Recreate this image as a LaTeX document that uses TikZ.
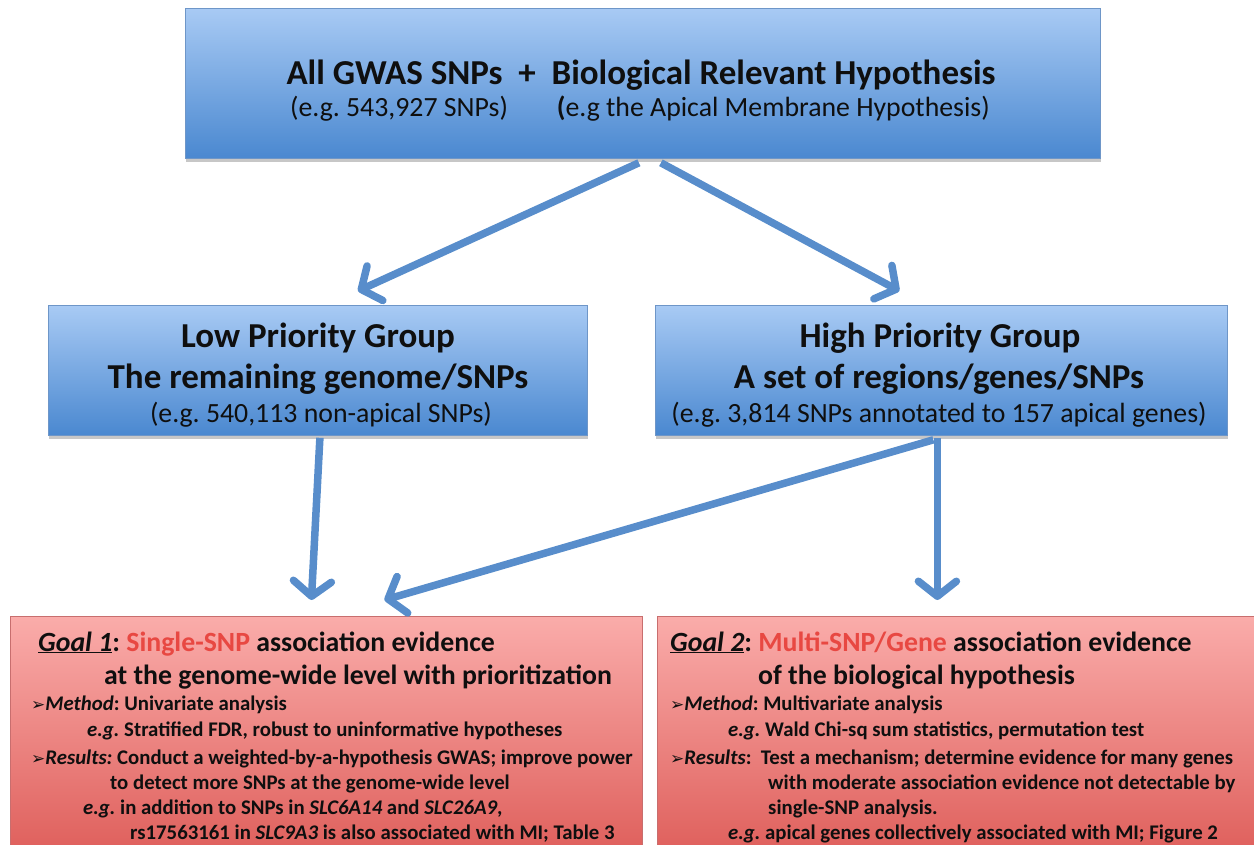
\documentclass[tikz,border=0pt]{standalone}
\usepackage{fontspec}
\setmainfont{Carlito}
\newfontfamily\symfont{DejaVu Sans}
\usetikzlibrary{arrows.meta,shadows,calc}
\definecolor{arrowblue}{RGB}{88,141,203}
\definecolor{bluetop}{RGB}{168,202,244}
\definecolor{bluebot}{RGB}{74,136,208}
\definecolor{blueedge}{RGB}{110,150,200}
\definecolor{redtop}{RGB}{250,172,170}
\definecolor{redbot}{RGB}{220,88,84}
\definecolor{rededge}{RGB}{200,110,110}
\definecolor{goalred}{RGB}{232,72,66}
\definecolor{txt}{RGB}{15,15,15}
\newcommand{\bul}{{\symfont\fontsize{17}{20}\selectfont ➢}}
\frenchspacing
\begin{document}
\begin{tikzpicture}[x=1pt,y=-1pt,
  bluebox/.style={draw=blueedge, line width=0.8pt, top color=bluetop, bottom color=bluebot,
    drop shadow={shadow xshift=1pt, shadow yshift=-4pt, opacity=0.22, fill=black},
    inner sep=0pt, anchor=north west},
  redbox/.style={draw=rededge, line width=0.8pt, top color=redtop, bottom color=redbot,
    inner sep=0pt, anchor=north west},
  bigtitle/.style={anchor=base, inner sep=0pt, text=txt, font=\fontsize{35}{40}\selectfont\bfseries},
  subtitle/.style={anchor=base, inner sep=0pt, text=txt, font=\fontsize{27.8}{32}\selectfont},
  goalhead/.style={anchor=base west, inner sep=0pt, text=txt, font=\fontsize{27.8}{32}\selectfont\bfseries},
  goalbody/.style={anchor=base west, inner sep=0pt, text=txt, font=\fontsize{20.8}{24}\selectfont\bfseries},
  flow/.style={draw=arrowblue, line width=7.5pt, -{Straight Barb[length=15pt,width=38pt,round]}}
]
\useasboundingbox (0,0) rectangle (1254,845);
\clip (0,0) rectangle (1254,845);

% boxes
\node[bluebox, minimum width=915pt, minimum height=150pt] (top) at (185,8) {};
\node[bluebox, minimum width=539pt, minimum height=130pt] (low) at (48,305) {};
\node[bluebox, minimum width=572pt, minimum height=130pt] (high) at (655,305) {};
\node[redbox, minimum width=632pt, minimum height=260pt] (goal1) at (10,616) {};
\node[redbox, minimum width=620pt, minimum height=260pt] (goal2) at (657,616) {};

% top box text
\node[bigtitle] (ttl) at (641,85) {All GWAS SNPs\ \ +\ \ Biological Relevant Hypothesis};
\node[subtitle, anchor=base west] (sub1) at (290,117) {(e.g. 543,927 SNPs)};
\node[subtitle, anchor=base east] (sub2) at (990,117) {\textbf{(}e.g the Apical Membrane Hypothesis)};

% low box text
\node[bigtitle] (lowa) at (318,347) {Low Priority Group};
\node[bigtitle] (lowb) at (318,388) {The remaining genome/SNPs};
\node[subtitle] (lowc) at (321,422) {(e.g. 540,113 non-apical SNPs)};

% high box text
\node[bigtitle] (higha) at (940,347) {High Priority Group};
\node[bigtitle] (highb) at (939,388) {A set of regions/genes/SNPs};
\node[subtitle] (highc) at (939,422) {(e.g. 3,814 SNPs annotated to 157 apical genes)};

% goal 1 text
\node[goalhead] (g1a) at (38,651) {\underline{\textit{Goal 1}}: \textcolor{goalred}{Single-SNP} association evidence};
\node[goalhead] (g1b) at (104,684) {at the genome-wide level with prioritization};
\node[goalbody] (g1c) at (31,710) {\bul\textit{Method}: Univariate analysis};
\node[goalbody] (g1d) at (87,736) {\textit{e.g.} Stratified FDR, robust to uninformative hypotheses};
\node[goalbody] (g1e) at (31,764) {\bul\textit{Results:} Conduct a weighted-by-a-hypothesis GWAS; improve power};
\node[goalbody] (g1f) at (110,789) {to detect more SNPs at the genome-wide level};
\node[goalbody] (g1g) at (83,814) {\textit{e.g.} in addition to SNPs in \textit{SLC6A14} and \textit{SLC26A9},};
\node[goalbody] (g1h) at (130,839) {rs17563161 in \textit{SLC9A3} is also associated with MI; Table 3};

% goal 2 text
\node[goalhead] (g2a) at (670,651) {\underline{\textit{Goal 2}}: \textcolor{goalred}{Multi-SNP/Gene} association evidence};
\node[goalhead] (g2b) at (758,684) {of the biological hypothesis};
\node[goalbody] (g2c) at (670,710) {\bul\textit{Method}: Multivariate analysis};
\node[goalbody] (g2d) at (728,736) {\textit{e.g.} Wald Chi-sq sum statistics, permutation test};
\node[goalbody] (g2e) at (670,764) {\bul\textit{Results}:\ \ Test a mechanism; determine evidence for many genes};
\node[goalbody] (g2f) at (768,789) {with moderate association evidence not detectable by};
\node[goalbody] (g2g) at (768,814) {single-SNP analysis.};
\node[goalbody] (g2h) at (728,839) {\textit{e.g.} apical genes collectively associated with MI; Figure 2};

% connectors
\draw[flow] ([xshift=-4pt,yshift=-4pt]top.south) -- ([xshift=40pt,yshift=14pt]low.north);
\draw[flow] ([xshift=18pt,yshift=-4pt]top.south) -- ([xshift=-42pt,yshift=14pt]high.north);
\draw[flow] ([xshift=2pt,yshift=-2pt]low.south) -- ([xshift=-15pt,yshift=16pt]goal1.north);
\draw[flow] ([xshift=-4pt,yshift=-2pt]high.south) -- ($(high.south |- goal2.north)+(-4,-16)$);
\draw[flow] ([xshift=-8pt,yshift=-4pt]high.south) -- ([xshift=58pt,yshift=16pt]goal1.north);
\end{tikzpicture}
\end{document}
